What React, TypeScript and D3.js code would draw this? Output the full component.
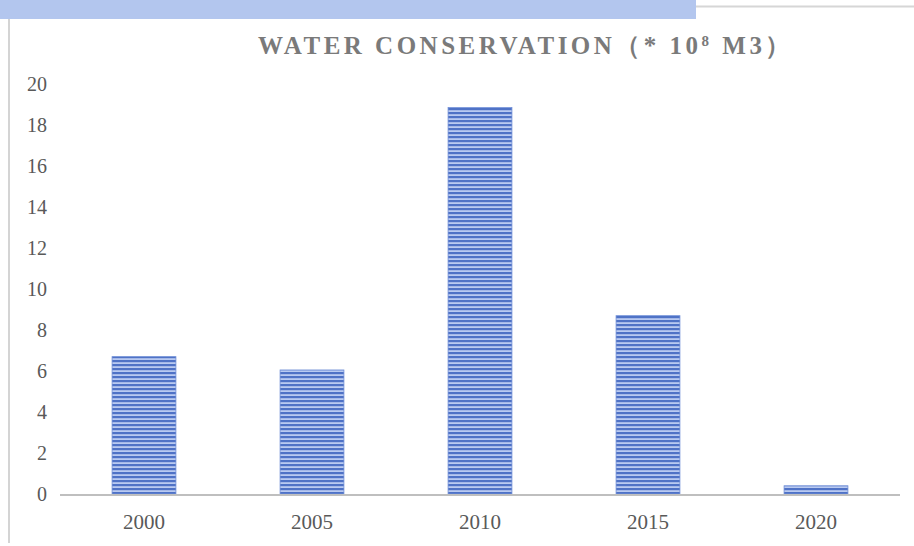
import React, { useEffect, useRef } from 'react';
import * as d3 from 'd3';

const years = ['2000', '2005', '2010', '2015', '2020'];
const values = [6.7, 6.05, 18.85, 8.7, 0.4];
const yTicks = [0, 2, 4, 6, 8, 10, 12, 14, 16, 18, 20];

const width = 914;
const height = 546;
const margin = { top: 84, right: 14, bottom: 52, left: 60 };

export default function App() {
	const ref = useRef<SVGSVGElement>(null);

	useEffect(() => {
		const svg = d3.select(ref.current);
		svg.selectAll('*').remove();

		const defs = svg.append('defs');
		const pat = defs.append('pattern')
			.attr('id', 'stripes')
			.attr('patternUnits', 'userSpaceOnUse')
			.attr('width', 8)
			.attr('height', 4);
		pat.append('rect').attr('width', 8).attr('height', 4).attr('fill', '#b9caf1');
		pat.append('rect').attr('y', 0).attr('width', 8).attr('height', 2.2).attr('fill', '#4f72c6');

		// header decoration
		svg.append('rect')
			.attr('x', 0).attr('y', 0)
			.attr('width', 696).attr('height', 19)
			.attr('fill', '#b3c6ee');
		svg.append('line')
			.attr('x1', 696).attr('x2', 914)
			.attr('y1', 6.5).attr('y2', 6.5)
			.style('stroke', '#d6d6d6')
			.style('stroke-width', 2);
		svg.append('line')
			.attr('x1', 9).attr('x2', 9)
			.attr('y1', 19).attr('y2', 543)
			.style('stroke', '#d4d4d4')
			.style('stroke-width', 2);

		const x = d3.scaleBand<string>()
			.domain(years)
			.range([margin.left, width - margin.right])
			.paddingInner(0.62)
			.paddingOuter(0.31);

		const y = d3.scaleLinear()
			.domain([0, 20])
			.range([height - margin.bottom, margin.top]);

		const font = "'Liberation Serif', 'Times New Roman', serif";

		// y labels
		svg.append('g')
			.selectAll('text')
			.data(yTicks)
			.join('text')
			.attr('x', 47)
			.attr('y', d => y(d))
			.attr('dy', '0.35em')
			.attr('text-anchor', 'end')
			.style('font-family', font)
			.style('font-size', '20px')
			.style('fill', '#595959')
			.text(d => d);

		// bars
		svg.append('g')
			.selectAll('rect')
			.data(values)
			.join('rect')
			.attr('x', (d, i) => x(years[i]) as number)
			.attr('y', d => y(d))
			.attr('width', x.bandwidth())
			.attr('height', d => y(0) - y(d))
			.attr('fill', 'url(#stripes)')
			.attr('stroke', '#6d8cd6')
			.attr('stroke-width', 0.8);

		// baseline
		svg.append('line')
			.attr('x1', margin.left).attr('x2', width - margin.right)
			.attr('y1', y(0) + 1).attr('y2', y(0) + 1)
			.style('stroke', '#bfbfbf')
			.style('stroke-width', 2);

		// x labels
		svg.append('g')
			.selectAll('text')
			.data(years)
			.join('text')
			.attr('x', d => (x(d) as number) + x.bandwidth() / 2)
			.attr('y', 529)
			.attr('text-anchor', 'middle')
			.style('font-family', font)
			.style('font-size', '21px')
			.style('fill', '#595959')
			.text(d => d);

		// title
		const title = svg.append('text')
			.attr('x', 526)
			.attr('y', 54)
			.attr('text-anchor', 'middle')
			.style('font-family', font)
			.style('font-size', '25px')
			.style('font-weight', 'bold')
			.style('letter-spacing', '3.5px')
			.style('fill', '#7a7a7a');
		title.append('tspan').text('WATER CONSERVATION（* 10');
		title.append('tspan').attr('dy', -8).style('font-size', '15px').text('8');
		title.append('tspan').attr('dy', 8).text(' M3）');
	}, []);

	return (
		<svg ref={ref} width={width} height={height} style={{ position: 'absolute', left: 0, top: 0, background: '#fff' }} />
	);
}
